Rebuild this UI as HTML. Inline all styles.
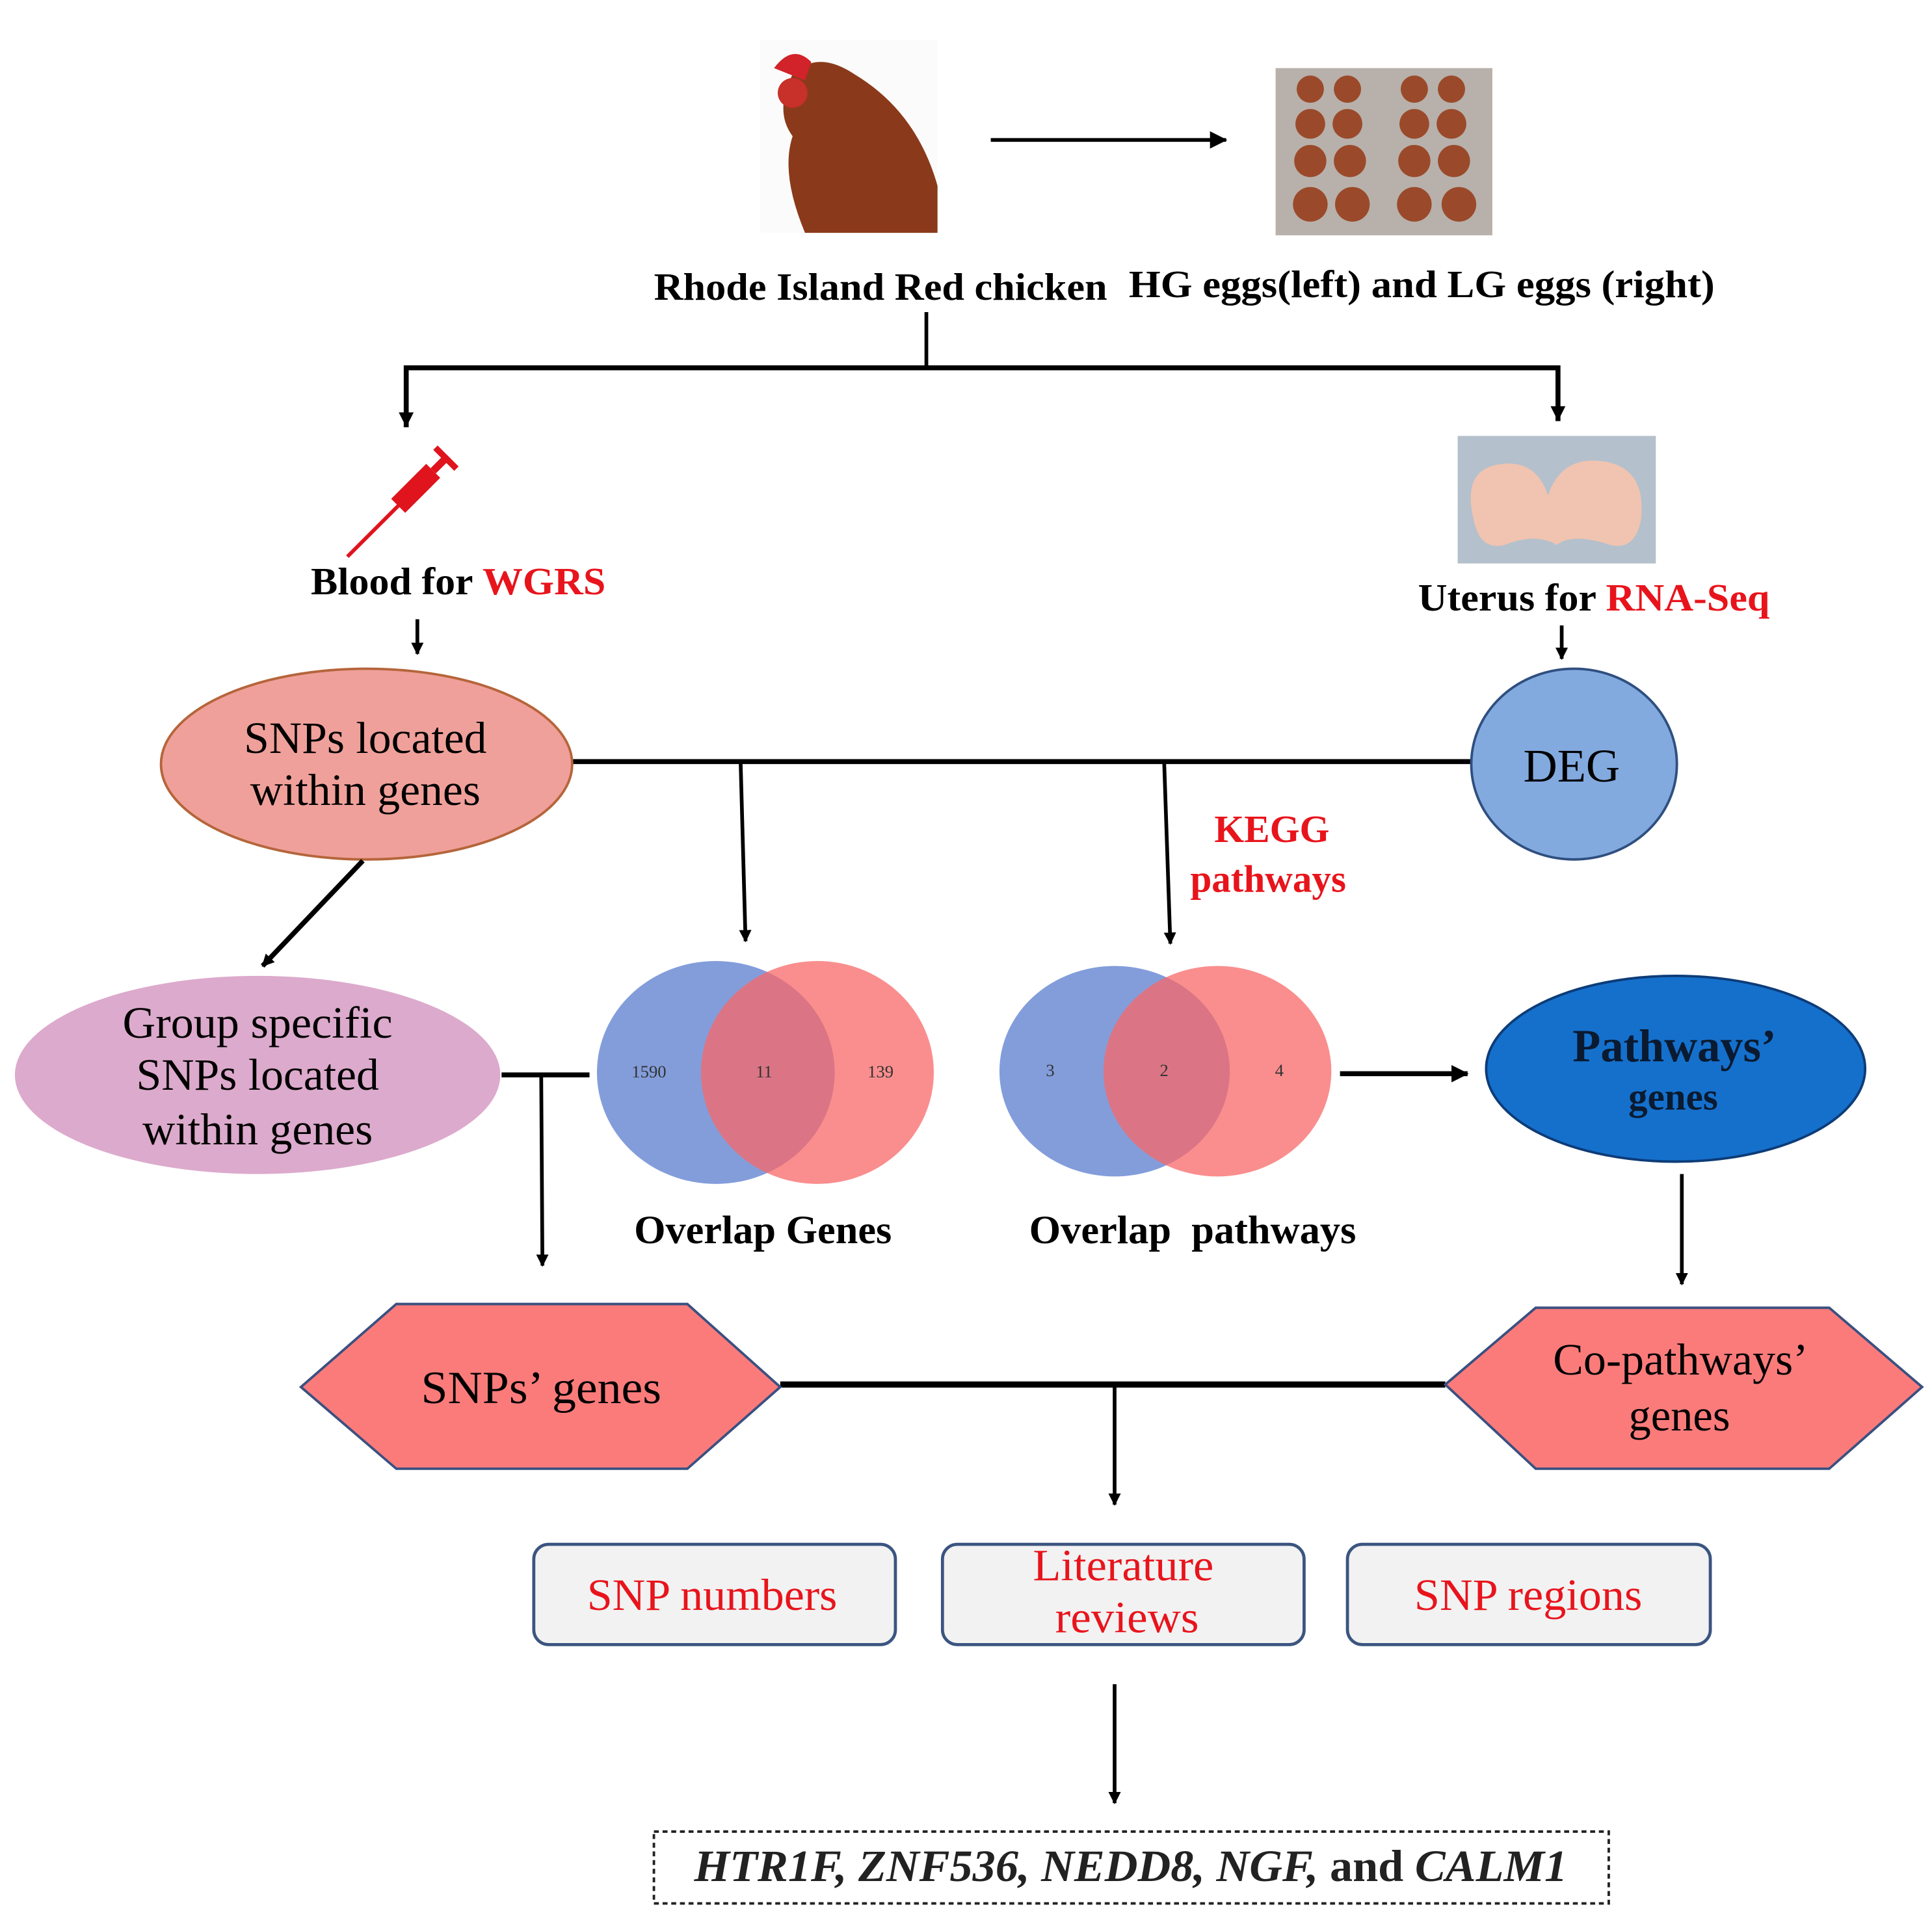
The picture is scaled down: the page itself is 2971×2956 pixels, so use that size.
<!DOCTYPE html>
<html><head><meta charset="utf-8"><style>
html,body{margin:0;padding:0;background:#fff;}
svg{display:block;}
text{font-family:"Liberation Serif",serif;}
</style></head><body>
<svg width="2971" height="2956" viewBox="0 0 1560 1552" preserveAspectRatio="none" xmlns="http://www.w3.org/2000/svg">
<defs>
<marker id="a" markerWidth="10" markerHeight="10" refX="9" refY="5" orient="auto" markerUnits="userSpaceOnUse"><path d="M0,0 L10,5 L0,10 z" fill="#000"/></marker>
<marker id="b" markerWidth="14" markerHeight="14" refX="13" refY="7" orient="auto" markerUnits="userSpaceOnUse"><path d="M0,0 L14,7 L0,14 z" fill="#000"/></marker>
</defs>
<rect width="1560" height="1552" fill="#fff"/>
<!-- chicken -->
<rect x="614" y="32" width="143" height="156" fill="#fbfbfb"/>
<path d="M640,60 Q660,40 690,60 Q740,90 757,150 L757,188 L650,188 Q630,140 640,110 Q625,90 640,60z" fill="#8a3a1a"/>
<path d="M625,55 Q640,35 655,50 L650,65 Z" fill="#d2222a"/>
<circle cx="640" cy="75" r="12" fill="#c8302a"/>
<line x1="800" y1="113" x2="990" y2="113" stroke="#000" stroke-width="3" marker-end="url(#b)"/>
<!-- eggs -->
<rect x="1030" y="55" width="175" height="135" fill="#b8b0ab"/>
<g fill="#9a4a2a">
<circle cx="1058" cy="72" r="11"/><circle cx="1088" cy="72" r="11"/><circle cx="1142" cy="72" r="11"/><circle cx="1172" cy="72" r="11"/>
<circle cx="1058" cy="100" r="12"/><circle cx="1088" cy="100" r="12"/><circle cx="1142" cy="100" r="12"/><circle cx="1172" cy="100" r="12"/>
<circle cx="1058" cy="130" r="13"/><circle cx="1090" cy="130" r="13"/><circle cx="1142" cy="130" r="13"/><circle cx="1174" cy="130" r="13"/>
<circle cx="1058" cy="165" r="14"/><circle cx="1092" cy="165" r="14"/><circle cx="1142" cy="165" r="14"/><circle cx="1178" cy="165" r="14"/>
</g>
<text x="711" y="242" font-size="31" font-weight="bold" text-anchor="middle" textLength="366" lengthAdjust="spacingAndGlyphs">Rhode Island Red chicken</text>
<text x="1148" y="240" font-size="31" font-weight="bold" text-anchor="middle" textLength="473" lengthAdjust="spacingAndGlyphs">HG eggs(left) and LG eggs (right)</text>
<polyline points="748,252 748,297" fill="none" stroke="#000" stroke-width="3"/>
<polyline points="328,345 328,297 1258,297 1258,340" fill="none" stroke="#000" stroke-width="4"/>
<path d="M322,333 L328,345 L334,333z M1252,328 L1258,340 L1264,328z" fill="#000"/>
<!-- syringe -->
<g transform="translate(330,400) rotate(-45)" fill="#e0141c">
<rect x="-12" y="-8" width="40" height="16"/>
<rect x="28" y="-3" width="14" height="6"/>
<rect x="40" y="-12" width="5" height="24"/>
<rect x="-70" y="-1.5" width="60" height="3"/>
</g>
<text x="370" y="480" font-size="31" font-weight="bold" text-anchor="middle" textLength="238" lengthAdjust="spacingAndGlyphs">Blood for <tspan fill="#e8141c">WGRS</tspan></text>
<!-- uterus -->
<rect x="1177" y="352" width="160" height="103" fill="#b4c0cc"/>
<path d="M1190,420 Q1180,380 1210,375 Q1240,370 1250,400 Q1260,370 1290,372 Q1330,375 1325,420 Q1320,445 1300,440 Q1270,430 1257,440 Q1240,430 1215,440 Q1195,445 1190,420z" fill="#f0c4b0"/>
<text x="1287" y="493" font-size="31" font-weight="bold" text-anchor="middle" textLength="284" lengthAdjust="spacingAndGlyphs">Uterus for <tspan fill="#e8141c">RNA-Seq</tspan></text>
<line x1="337" y1="500" x2="337" y2="528" stroke="#000" stroke-width="3" marker-end="url(#a)"/>
<line x1="1261" y1="505" x2="1261" y2="532" stroke="#000" stroke-width="3" marker-end="url(#a)"/>
<!-- row 2 -->
<line x1="462" y1="615" x2="1188" y2="615" stroke="#000" stroke-width="4"/>
<ellipse cx="296" cy="617" rx="166" ry="77" fill="#f0a09a" stroke="#b5653a" stroke-width="2"/>
<text x="295" y="608" font-size="36" text-anchor="middle" textLength="196" lengthAdjust="spacingAndGlyphs">SNPs located</text>
<text x="295" y="650" font-size="36" text-anchor="middle" textLength="186" lengthAdjust="spacingAndGlyphs">within genes</text>
<ellipse cx="1271" cy="617" rx="83" ry="77" fill="#82aadf" stroke="#2f4f7f" stroke-width="2"/>
<text x="1269" y="631" font-size="38" text-anchor="middle">DEG</text>
<line x1="598" y1="615" x2="602" y2="760" stroke="#000" stroke-width="3" marker-end="url(#a)"/>
<line x1="940" y1="615" x2="945" y2="762" stroke="#000" stroke-width="3" marker-end="url(#a)"/>
<text x="1027" y="680" font-size="31" font-weight="bold" fill="#e8141c" text-anchor="middle">KEGG</text>
<text x="1024" y="720" font-size="31" font-weight="bold" fill="#e8141c" text-anchor="middle">pathways</text>
<line x1="293" y1="695" x2="212" y2="780" stroke="#000" stroke-width="4" marker-end="url(#a)"/>
<!-- row 3 -->
<ellipse cx="208" cy="868" rx="196" ry="80" fill="#dcaacc"/>
<text x="208" y="838" font-size="36" text-anchor="middle" textLength="218" lengthAdjust="spacingAndGlyphs">Group specific</text>
<text x="208" y="880" font-size="36" text-anchor="middle" textLength="196" lengthAdjust="spacingAndGlyphs">SNPs located</text>
<text x="208" y="924" font-size="36" text-anchor="middle" textLength="186" lengthAdjust="spacingAndGlyphs">within genes</text>
<line x1="405" y1="868" x2="476" y2="868" stroke="#000" stroke-width="4"/>
<line x1="437" y1="868" x2="438" y2="1022" stroke="#000" stroke-width="3" marker-end="url(#a)"/>
<ellipse cx="578" cy="866" rx="96" ry="90" fill="#6d8cd5" fill-opacity="0.85"/>
<ellipse cx="660" cy="866" rx="94" ry="90" fill="#f86868" fill-opacity="0.75"/>
<text x="524" y="870" font-size="14" text-anchor="middle" fill="#333" font-family="Liberation Sans">1590</text>
<text x="617" y="870" font-size="14" text-anchor="middle" fill="#333" font-family="Liberation Sans">11</text>
<text x="711" y="870" font-size="14" text-anchor="middle" fill="#333" font-family="Liberation Sans">139</text>
<ellipse cx="900" cy="865" rx="93" ry="85" fill="#6d8cd5" fill-opacity="0.85"/>
<ellipse cx="983" cy="865" rx="92" ry="85" fill="#f86868" fill-opacity="0.75"/>
<text x="848" y="869" font-size="14" text-anchor="middle" fill="#333" font-family="Liberation Sans">3</text>
<text x="940" y="869" font-size="14" text-anchor="middle" fill="#333" font-family="Liberation Sans">2</text>
<text x="1033" y="869" font-size="14" text-anchor="middle" fill="#333" font-family="Liberation Sans">4</text>
<text x="616" y="1004" font-size="32" font-weight="bold" text-anchor="middle" textLength="208" lengthAdjust="spacingAndGlyphs">Overlap Genes</text>
<text x="963" y="1004" font-size="32" font-weight="bold" text-anchor="middle" xml:space="preserve" textLength="264" lengthAdjust="spacingAndGlyphs">Overlap  pathways</text>
<line x1="1082" y1="867" x2="1185" y2="867" stroke="#000" stroke-width="4" marker-end="url(#b)"/>
<ellipse cx="1353" cy="863" rx="153" ry="75" fill="#1570cc" stroke="#0d3c78" stroke-width="2"/>
<text x="1352" y="857" font-size="37" font-weight="bold" fill="#0a1a30" text-anchor="middle">Pathways’</text>
<text x="1351" y="896" font-size="31" font-weight="bold" fill="#0a1a30" text-anchor="middle">genes</text>
<line x1="1358" y1="948" x2="1358" y2="1037" stroke="#000" stroke-width="3" marker-end="url(#a)"/>
<!-- row 4 -->
<line x1="630" y1="1118" x2="1167" y2="1118" stroke="#000" stroke-width="5"/>
<polygon points="243,1120 320,1053 555,1053 630,1120 555,1186 320,1186" fill="#fb7b7b" stroke="#3a5080" stroke-width="2"/>
<text x="437" y="1133" font-size="37" text-anchor="middle" textLength="194" lengthAdjust="spacingAndGlyphs">SNPs’ genes</text>
<polygon points="1167,1118 1240,1056 1477,1056 1552,1120 1477,1186 1240,1186" fill="#fb7b7b" stroke="#3a5080" stroke-width="2"/>
<text x="1357" y="1110" font-size="36" text-anchor="middle" textLength="206" lengthAdjust="spacingAndGlyphs">Co-pathways’</text>
<text x="1356" y="1155" font-size="36" text-anchor="middle">genes</text>
<line x1="900" y1="1118" x2="900" y2="1215" stroke="#000" stroke-width="3" marker-end="url(#a)"/>
<rect x="431" y="1247" width="292" height="81" rx="12" fill="#f2f2f2" stroke="#3b5580" stroke-width="2.5"/>
<text x="575" y="1300" font-size="36" fill="#e8141c" text-anchor="middle" textLength="202" lengthAdjust="spacingAndGlyphs">SNP numbers</text>
<rect x="761" y="1247" width="292" height="81" rx="12" fill="#f2f2f2" stroke="#3b5580" stroke-width="2.5"/>
<text x="907" y="1276" font-size="36" fill="#e8141c" text-anchor="middle" textLength="146" lengthAdjust="spacingAndGlyphs">Literature</text>
<text x="910" y="1318" font-size="36" fill="#e8141c" text-anchor="middle" textLength="116" lengthAdjust="spacingAndGlyphs">reviews</text>
<rect x="1088" y="1247" width="293" height="81" rx="12" fill="#f2f2f2" stroke="#3b5580" stroke-width="2.5"/>
<text x="1234" y="1300" font-size="36" fill="#e8141c" text-anchor="middle" textLength="184" lengthAdjust="spacingAndGlyphs">SNP regions</text>
<line x1="900" y1="1360" x2="900" y2="1456" stroke="#000" stroke-width="3" marker-end="url(#a)"/>
<rect x="528" y="1479" width="771" height="58" fill="#fff" stroke="#222" stroke-width="2" stroke-dasharray="4,3"/>
<text x="913" y="1519" font-size="36" font-weight="bold" fill="#222" text-anchor="middle" textLength="705" lengthAdjust="spacingAndGlyphs"><tspan font-style="italic">HTR1F, ZNF536, NEDD8, NGF,</tspan> and <tspan font-style="italic">CALM1</tspan></text>
</svg>
</body></html>
